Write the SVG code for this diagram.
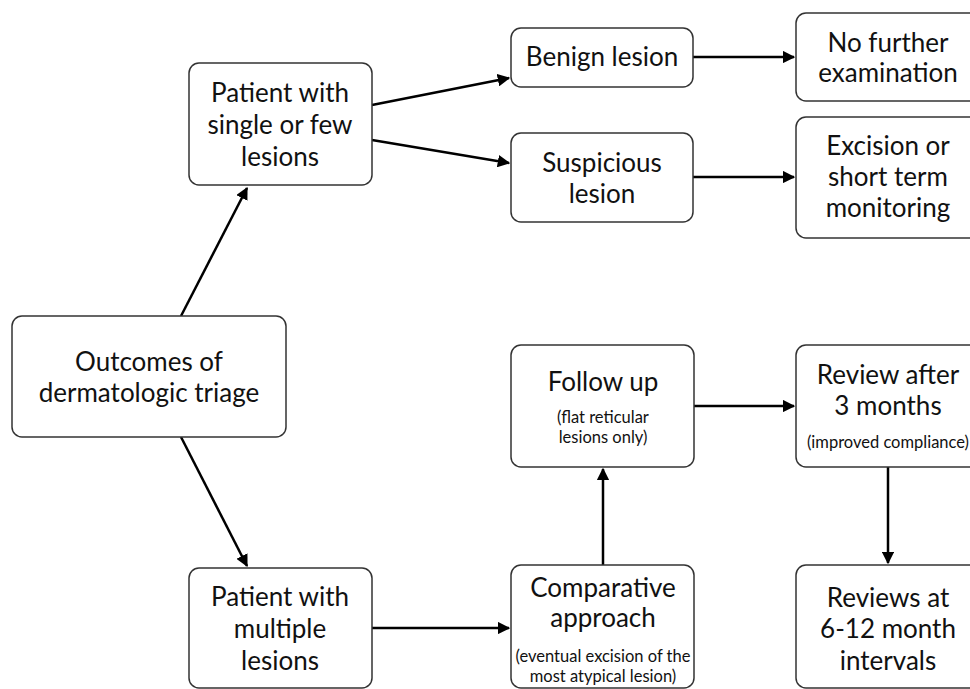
<svg xmlns="http://www.w3.org/2000/svg" width="970" height="689" viewBox="0 0 970 689">
<style>
.box{fill:#fff;stroke:#333;stroke-width:1.5}
.t{font-family:Lato,"Open Sans","Liberation Sans",sans-serif;font-size:26px;fill:#111;text-anchor:middle}
.s{font-family:Lato,"Open Sans","Liberation Sans",sans-serif;font-size:16.5px;fill:#111;text-anchor:middle}
.c{stroke:#000;stroke-width:2.5;fill:none;marker-end:url(#ah)}
</style>
<defs>
<marker id="ah" viewBox="0 0 10 10" refX="9" refY="5" markerWidth="5" markerHeight="5" orient="auto" markerUnits="strokeWidth">
<path d="M0,0 L10,5 L0,10 z" fill="#000"/>
</marker>
</defs>
<rect width="970" height="689" fill="#fff"/>
<g id="connectors">
<line class="c" x1="181" y1="316" x2="247" y2="188"/>
<line class="c" x1="181" y1="437" x2="247" y2="566"/>
<line class="c" x1="372" y1="105" x2="509" y2="78"/>
<line class="c" x1="372" y1="140" x2="509" y2="163"/>
<line class="c" x1="693" y1="57" x2="794" y2="57"/>
<line class="c" x1="693" y1="177" x2="794" y2="177"/>
<line class="c" x1="372" y1="628" x2="509" y2="628"/>
<line class="c" x1="603" y1="565" x2="603" y2="469"/>
<line class="c" x1="694" y1="406" x2="794" y2="406"/>
<line class="c" x1="888" y1="467" x2="888" y2="563"/>
</g>
<g id="outcomes">
<rect class="box" x="12" y="316" width="274" height="121" rx="10"/>
<text class="t" x="149" y="371">Outcomes of</text>
<text class="t" x="149" y="402">dermatologic triage</text>
</g>
<g id="patient-single">
<rect class="box" x="189" y="63" width="183" height="122" rx="10"/>
<text class="t" x="280" y="102">Patient with</text>
<text class="t" x="280" y="134">single or few</text>
<text class="t" x="280" y="166">lesions</text>
</g>
<g id="patient-multiple">
<rect class="box" x="189" y="568" width="183" height="120" rx="10"/>
<text class="t" x="280" y="606">Patient with</text>
<text class="t" x="280" y="638">multiple</text>
<text class="t" x="280" y="670">lesions</text>
</g>
<g id="benign">
<rect class="box" x="511" y="28" width="182" height="59" rx="10"/>
<text class="t" x="602" y="66">Benign lesion</text>
</g>
<g id="suspicious">
<rect class="box" x="511" y="133" width="182" height="89" rx="10"/>
<text class="t" x="602" y="172">Suspicious</text>
<text class="t" x="602" y="203">lesion</text>
</g>
<g id="no-further">
<rect class="box" x="796" y="13" width="184" height="88" rx="10"/>
<text class="t" x="888" y="52">No further</text>
<text class="t" x="888" y="82">examination</text>
</g>
<g id="excision">
<rect class="box" x="796" y="117" width="184" height="121" rx="10"/>
<text class="t" x="888" y="155">Excision or</text>
<text class="t" x="888" y="186">short term</text>
<text class="t" x="888" y="217">monitoring</text>
</g>
<g id="follow-up">
<rect class="box" x="511" y="345" width="183" height="122" rx="10"/>
<text class="t" x="603" y="391">Follow up</text>
<text class="s" x="603" y="423">(flat reticular</text>
<text class="s" x="603" y="443">lesions only)</text>
</g>
<g id="comparative">
<rect class="box" x="511" y="565" width="183" height="123" rx="10"/>
<text class="t" x="603" y="597">Comparative</text>
<text class="t" x="603" y="627">approach</text>
<text class="s" x="603" y="662">(eventual excision of the</text>
<text class="s" x="603" y="682">most atypical lesion)</text>
</g>
<g id="review-3">
<rect class="box" x="796" y="345" width="184" height="122" rx="10"/>
<text class="t" x="888" y="384">Review after</text>
<text class="t" x="888" y="415">3 months</text>
<text class="s" x="888" y="448">(improved compliance)</text>
</g>
<g id="reviews-6-12">
<rect class="box" x="796" y="565" width="184" height="123" rx="10"/>
<text class="t" x="888" y="607">Reviews at</text>
<text class="t" x="888" y="638">6-12 month</text>
<text class="t" x="888" y="670">intervals</text>
</g>
</svg>
